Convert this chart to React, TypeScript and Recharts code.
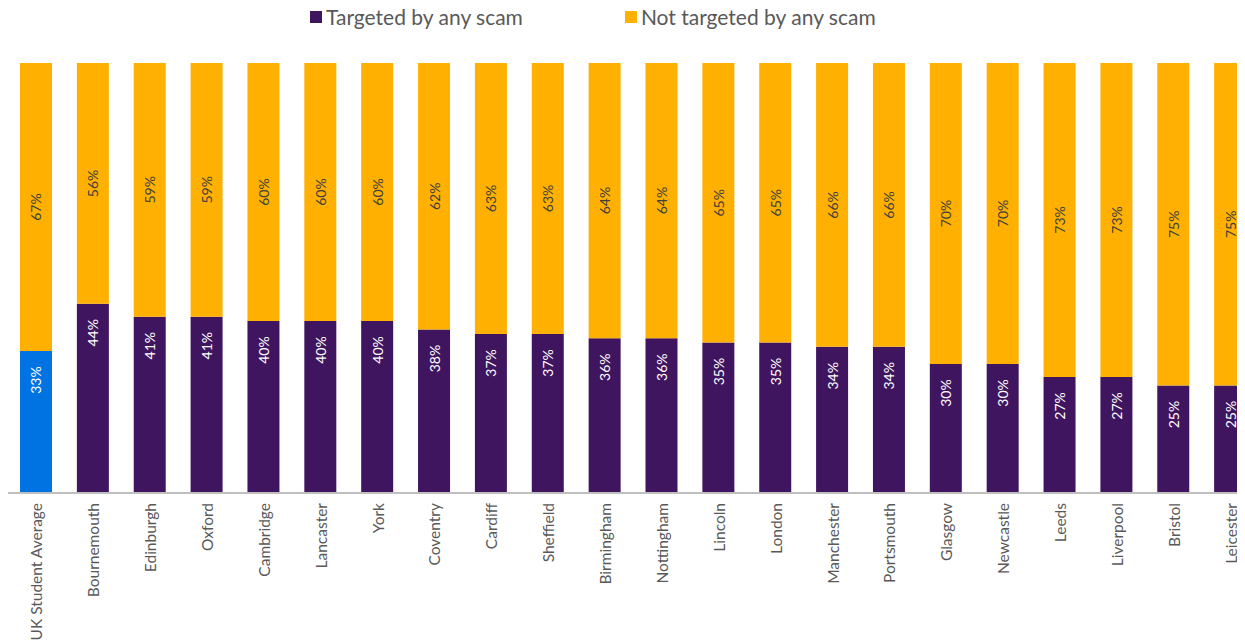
import React from "react";
import { BarChart, Bar, XAxis, YAxis, Cell, LabelList } from "recharts";

const categories = [
  "UK Student Average", "Bournemouth", "Edinburgh", "Oxford", "Cambridge", "Lancaster", "York",
  "Coventry", "Cardiff", "Sheffield", "Birmingham", "Nottingham", "Lincoln", "London",
  "Manchester", "Portsmouth", "Glasgow", "Newcastle", "Leeds", "Liverpool", "Bristol", "Leicester",
];
const targeted = [33, 44, 41, 41, 40, 40, 40, 38, 37, 37, 36, 36, 35, 35, 34, 34, 30, 30, 27, 27, 25, 25];
const notTargeted = [67, 56, 59, 59, 60, 60, 60, 62, 63, 63, 64, 64, 65, 65, 66, 66, 70, 70, 73, 73, 75, 75];
const seriesNames = ["Targeted by any scam", "Not targeted by any scam"];

const PURPLE = "#3F1560";
const ORANGE = "#FFB000";
const BLUE = "#0073E3";
const FONT = "Lato, 'Open Sans', sans-serif";

const data = categories.map((name, i) => ({
  name,
  targeted: targeted[i],
  notTargeted: notTargeted[i],
}));

const Tick = (props: any) => {
  const { x, y, payload } = props;
  const ty = y + 2;
  return (
    <text
      x={x}
      y={ty}
      transform={`rotate(-90, ${x}, ${ty})`}
      textAnchor="end"
      dominantBaseline="central"
      fontSize={15.5}
      fill="#595959"
      fontFamily={FONT}
    >
      {payload.value}
    </text>
  );
};

const PurpleLabel = (props: any) => {
  const { x, y, width, value } = props;
  const cx = x + width / 2;
  const cy = y + 29;
  return (
    <text
      x={cx}
      y={cy}
      transform={`rotate(-90, ${cx}, ${cy})`}
      textAnchor="middle"
      dominantBaseline="central"
      fontSize={14}
      fill="#ffffff"
      fontFamily={FONT}
    >
      {value}%
    </text>
  );
};

const OrangeLabel = (props: any) => {
  const { x, y, width, height, value } = props;
  const cx = x + width / 2;
  const cy = y + height / 2;
  return (
    <text
      x={cx}
      y={cy}
      transform={`rotate(-90, ${cx}, ${cy})`}
      textAnchor="middle"
      dominantBaseline="central"
      fontSize={14}
      fill="#404040"
      fontFamily={FONT}
    >
      {value}%
    </text>
  );
};

export default function App() {
  const legendColors = [PURPLE, ORANGE];
  return (
    <div style={{ position: "relative", width: 1237, height: 632, fontFamily: FONT }}>
      <div
        style={{
          position: "absolute",
          top: -4,
          left: 302,
          zIndex: 2,
          display: "flex",
          alignItems: "center",
          fontSize: 21,
          lineHeight: "25px",
          color: "#595959",
          whiteSpace: "nowrap",
        }}
      >
        {seriesNames.map((n, i) => (
          <div key={n} style={{ display: "flex", alignItems: "center", marginRight: i === 0 ? 102 : 0 }}>
            <span style={{ display: "inline-block", width: 12, height: 12, background: legendColors[i], marginRight: 4 }} />
            <span>{n}</span>
          </div>
        ))}
      </div>
      <div style={{ position: "absolute", top: 0, left: 0, width: 1237, height: 632, overflow: "hidden" }}>
        <BarChart
          width={1251}
          height={632}
          data={data}
          margin={{ top: 55, right: 0, left: 0, bottom: 0 }}
          barSize={32}
        >
          <YAxis hide domain={[0, 100]} />
          <XAxis
            dataKey="name"
            interval={0}
            height={147}
            tickLine={false}
            axisLine={{ stroke: "#BFBFBF", strokeWidth: 2 }}
            tick={<Tick />}
          />
          <Bar dataKey="targeted" stackId="a" fill={PURPLE} isAnimationActive={false} name={seriesNames[0]}>
            {data.map((d, i) => (
              <Cell key={d.name} fill={i === 0 ? BLUE : PURPLE} />
            ))}
            <LabelList dataKey="targeted" content={<PurpleLabel />} />
          </Bar>
          <Bar dataKey="notTargeted" stackId="a" fill={ORANGE} isAnimationActive={false} name={seriesNames[1]}>
            <LabelList dataKey="notTargeted" content={<OrangeLabel />} />
          </Bar>
        </BarChart>
      </div>
    </div>
  );
}
